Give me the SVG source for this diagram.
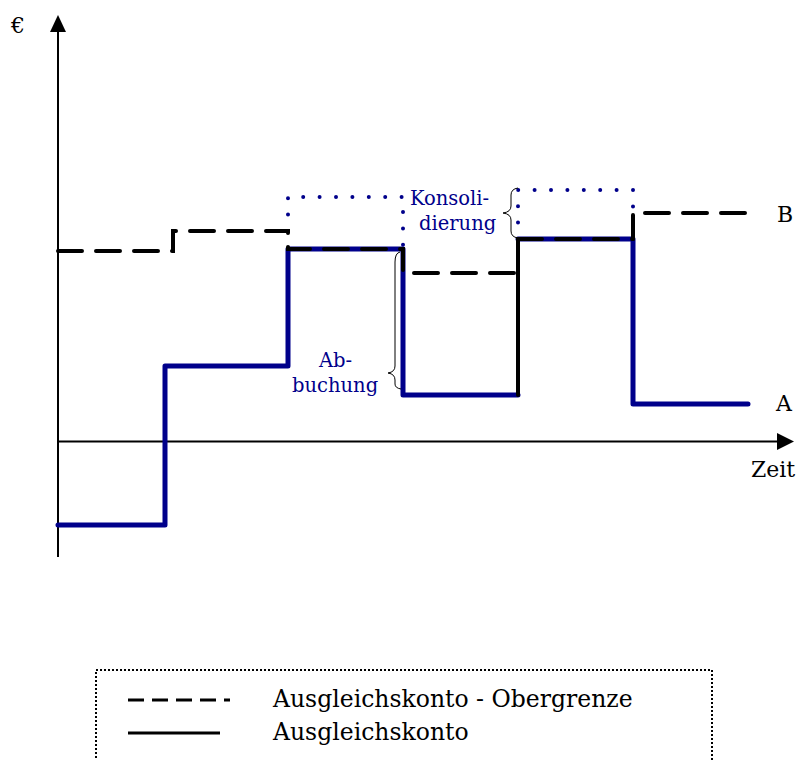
<svg xmlns="http://www.w3.org/2000/svg" width="802" height="760" viewBox="0 0 802 760">
<style>
text{font-family:"DejaVu Serif","Liberation Serif",serif;}
.lbl{font-size:22px;fill:#000;}
.leg{font-size:23.5px;fill:#000;}
.blbl{font-size:19.5px;fill:#00008b;}
.axis{stroke:#000;stroke-width:2;fill:none;}
.acct{stroke:#00008b;stroke-width:5;fill:none;stroke-linejoin:round;stroke-linecap:round;}
.acctk{stroke:#000;stroke-width:4;fill:none;stroke-linecap:round;}
.upper{stroke:#000;stroke-width:4;fill:none;stroke-dasharray:24 14;stroke-linecap:round;stroke-linejoin:miter;}
.dots{stroke:#00008b;stroke-width:4;fill:none;stroke-dasharray:0 16.4;stroke-linecap:round;}
.brace{stroke:#000;stroke-width:1;fill:none;}
</style>
<rect width="802" height="760" fill="#fff"/>
<g id="axes">
<line class="axis" x1="58" y1="557" x2="58" y2="30"/>
<polygon points="50,32 66,32 58,15" fill="#000"/>
<line class="axis" x1="58" y1="441.5" x2="779" y2="441.5"/>
<polygon points="777,433 794,441.5 777,450" fill="#000"/>
<text class="lbl" x="11" y="33">€</text>
<text class="lbl" x="751" y="477">Zeit</text>
</g>
<g id="connectors">
<g id="konsolidierung-dots">
<polyline class="dots" points="288,231 288,197 403,197 403,249"/>
<polyline class="dots" points="518,239 518,190 633,190 633,221"/>
</g>
<g id="series-A">
<polyline class="acct" points="58,525 165,525 165,366 288,366 288,249 403,249 403,395 518,395"/>
<polyline class="acct" points="518,239 633,239 633,404 748,404"/>
<line class="acctk" x1="518" y1="395" x2="518" y2="239"/>
</g>
<g id="series-B">
<polyline class="upper" points="58,251 173,251 173,231 288,231 288,249 403,249 403,273 518,273"/>
<polyline class="upper" points="518,239 633,239"/>
<polyline class="upper" points="633,239 633,213 745,213"/>
</g>
<g id="braces">
<path class="brace" d="M400,252 Q395,253 395,262 L395,366 Q395,372 388,373 Q395,374 395,380 L395,384 Q395,388 401,389"/>
<path class="brace" d="M518,188 Q511,189 511,195 L511,206 Q511,212 503,213 Q511,214 511,220 L511,231 Q511,237 518,238"/>
</g>
</g>
<g id="labels">
<text class="lbl" x="777" y="222">B</text>
<text class="lbl" x="776" y="411">A</text>
<text class="blbl" x="410" y="205">Konsoli-</text>
<text class="blbl" x="419" y="230">dierung</text>
<text class="blbl" x="319" y="367">Ab-</text>
<text class="blbl" x="292" y="392">buchung</text>
</g>
<g id="legend">
<rect x="96" y="670" width="616" height="110" fill="none" stroke="#000" stroke-width="2" stroke-dasharray="2 2"/>
<line x1="128" y1="700" x2="230" y2="700" stroke="#000" stroke-width="3" stroke-dasharray="16 8"/>
<line x1="128" y1="733" x2="220" y2="733" stroke="#000" stroke-width="3"/>
<text class="leg" x="273" y="707">Ausgleichskonto - Obergrenze</text>
<text class="leg" x="273" y="740">Ausgleichskonto</text>
</g>
</svg>
